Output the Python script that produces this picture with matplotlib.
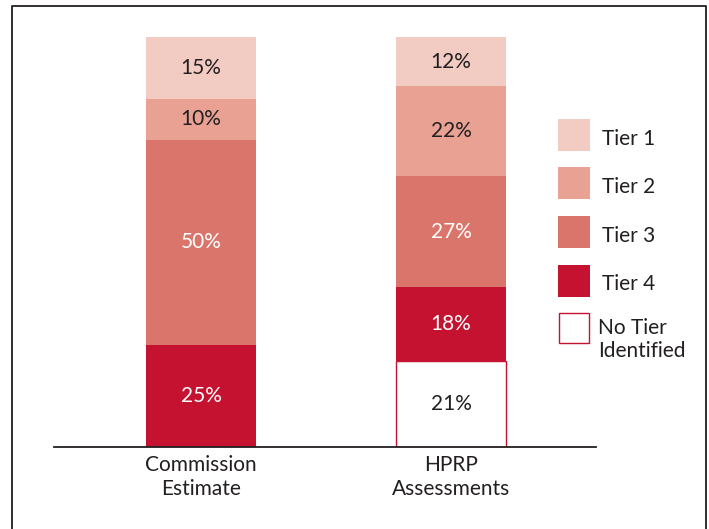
import matplotlib.pyplot as plt
from matplotlib.patches import Rectangle
from matplotlib.lines import Line2D

plt.rcParams['font.family'] = ['Lato', 'DejaVu Sans']

groups = ['Commission\nEstimate', 'HPRP\nAssessments']
tiers = ['No Tier\nIdentified', 'Tier 4', 'Tier 3', 'Tier 2', 'Tier 1']
# stacked from the bottom up
values = {
    'No Tier\nIdentified': [0, 21],
    'Tier 4': [25, 18],
    'Tier 3': [50, 27],
    'Tier 2': [10, 22],
    'Tier 1': [15, 12],
}
colors = {
    'No Tier\nIdentified': 'white',
    'Tier 4': '#C41230',
    'Tier 3': '#D9756A',
    'Tier 2': '#E8A193',
    'Tier 1': '#F2CCC2',
}
text_colors = {
    'No Tier\nIdentified': '#231F20',
    'Tier 4': 'white',
    'Tier 3': 'white',
    'Tier 2': '#231F20',
    'Tier 1': '#231F20',
}

FS = 15
W, H = 709, 529
fig = plt.figure(figsize=(W / 100, H / 100), dpi=100)
ax = fig.add_axes([54 / W, 1 - 447 / H, 542 / W, 410 / H])

x = [0, 1]
bottom = [0, 0]
for t in tiers:
    vals = values[t]
    if t == 'No Tier\nIdentified':
        ax.bar(x, vals, 0.44, bottom=bottom, color='white',
               edgecolor='#C41230', linewidth=1.0)
    else:
        ax.bar(x, vals, 0.44, bottom=bottom, color=colors[t], linewidth=0)
    for i in range(len(x)):
        if vals[i] > 0:
            ax.text(x[i], bottom[i] + vals[i] / 2, f'{vals[i]}%',
                    ha='center', va='center', fontsize=FS,
                    color=text_colors[t])
    bottom = [b + v for b, v in zip(bottom, vals)]

ax.set_xlim(-0.588, 1.58)
ax.set_ylim(0, 100)
for s in ['top', 'left', 'right']:
    ax.spines[s].set_visible(False)
ax.spines['bottom'].set_color('#231F20')
ax.spines['bottom'].set_linewidth(1.3)
ax.set_yticks([])
ax.set_xticks(x)
ax.set_xticklabels(groups, fontsize=FS, color='#231F20', linespacing=1.2)
ax.tick_params(axis='x', length=0, pad=6)

# legend, drawn by hand to follow the original layout
legend_order = ['Tier 1', 'Tier 2', 'Tier 3', 'Tier 4', 'No Tier\nIdentified']
for k, t in enumerate(legend_order):
    top = 119 + k * 48.5
    if t == 'No Tier\nIdentified':
        r = Rectangle((559 / W, 1 - (top + 30) / H), 30 / W, 30 / H,
                      transform=fig.transFigure, facecolor='white',
                      edgecolor='#C41230', linewidth=1.0)
        fig.patches.append(r)
        fig.text(598 / W, 1 - (top + 5) / H, t, fontsize=FS, color='#231F20',
                 ha='left', va='top', linespacing=1.2)
    else:
        r = Rectangle((558 / W, 1 - (top + 32) / H), 32 / W, 32 / H,
                      transform=fig.transFigure, facecolor=colors[t],
                      linewidth=0)
        fig.patches.append(r)
        fig.text(602 / W, 1 - (top + 20) / H, t, fontsize=FS, color='#231F20',
                 ha='left', va='center')

# outer frame (bottom edge falls outside the picture)
frame_x = [12 / W, 12 / W, 706 / W, 706 / W]
frame_y = [0, 1 - 6 / H, 1 - 6 / H, 0]
fig.lines.append(Line2D(frame_x, frame_y, transform=fig.transFigure,
                        color='#231F20', linewidth=1.3))

fig.savefig('out.png', dpi=100)
